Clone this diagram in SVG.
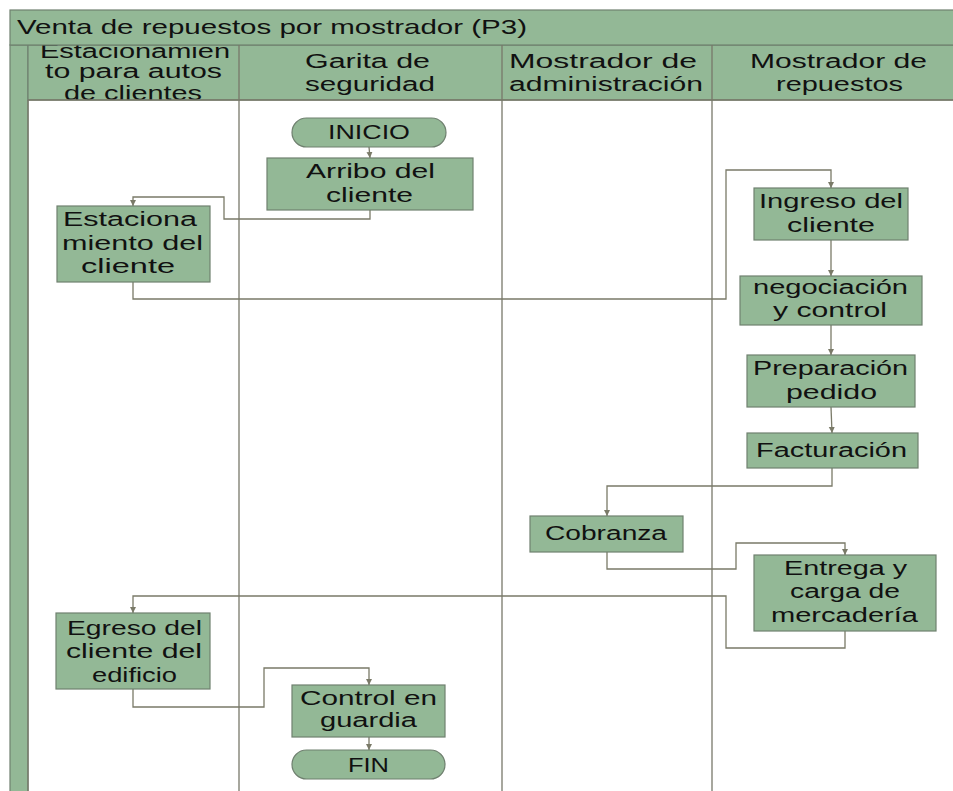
<svg xmlns="http://www.w3.org/2000/svg" width="953" height="791" viewBox="0 0 953 791">
<defs>
<marker id="ah" markerUnits="userSpaceOnUse" markerWidth="8" markerHeight="8" refX="6" refY="3" orient="auto">
<path d="M0,0 L6,3 L0,6 Z" fill="#7a7a68"/>
</marker>
<style>
.g{fill:#93b896;stroke:#6f806f;stroke-width:1.2}
.lane{stroke:#78786a;stroke-width:1.3;fill:none}
.c{fill:none;stroke:#7a7a68;stroke-width:1.3;marker-end:url(#ah)}
text{font-family:"Liberation Sans","Open Sans",sans-serif;fill:#111;font-size:20px}
.t{font-size:21px}
</style>
</defs>
<rect width="953" height="791" fill="#fff"/>
<g id="pool">
<rect x="10" y="45" width="18" height="760" class="g"/>
<rect x="28" y="45" width="930" height="55" class="g"/>
<g id="headers">
<text x="40" y="58" textLength="190" lengthAdjust="spacingAndGlyphs">Estacionamien</text>
<text x="45" y="78" textLength="177" lengthAdjust="spacingAndGlyphs">to para autos</text>
<text x="64" y="100" textLength="138" lengthAdjust="spacingAndGlyphs">de clientes</text>
<text x="305" y="68" textLength="125" lengthAdjust="spacingAndGlyphs">Garita de</text>
<text x="305" y="91" textLength="130" lengthAdjust="spacingAndGlyphs">seguridad</text>
<text x="509" y="68" textLength="188" lengthAdjust="spacingAndGlyphs">Mostrador de</text>
<text x="509" y="91" textLength="194" lengthAdjust="spacingAndGlyphs">administración</text>
<text x="750" y="68" textLength="177" lengthAdjust="spacingAndGlyphs">Mostrador de</text>
<text x="776" y="91" textLength="127" lengthAdjust="spacingAndGlyphs">repuestos</text>
</g>
<rect x="10" y="10" width="950" height="35" class="g"/>
<text class="t" x="17" y="34" textLength="510" lengthAdjust="spacingAndGlyphs">Venta de repuestos por mostrador (P3)</text>
<line x1="28" y1="100" x2="28" y2="791" class="lane"/>
<line x1="28" y1="100" x2="953" y2="100" class="lane"/>
<line x1="239" y1="45" x2="239" y2="791" class="lane"/>
<line x1="502" y1="45" x2="502" y2="791" class="lane"/>
<line x1="712" y1="45" x2="712" y2="791" class="lane"/>
</g>
<g id="connectors">
<path class="c" d="M369,147 L370,158"/>
<path class="c" d="M370,210 V219 H224 V197 H133 V206"/>
<path class="c" d="M133,282 V299 H726 V170 H831 V188"/>
<path class="c" d="M831,240 V276"/>
<path class="c" d="M831,325 V355"/>
<path class="c" d="M831,407 L832,433"/>
<path class="c" d="M832,468 V486 H607 V516"/>
<path class="c" d="M607,552 V569 H736 V543 H845 V555"/>
<path class="c" d="M845,631 V648 H726 V596 H133 V613"/>
<path class="c" d="M133,689 V707 H264 V668 H369 V685"/>
<path class="c" d="M369,737 V750"/>
</g>
<g id="inicio">
<rect x="292" y="118" width="154" height="29" rx="14.5" class="g"/>
<text x="328" y="139" textLength="82" lengthAdjust="spacingAndGlyphs">INICIO</text>
</g>
<g id="arribo">
<rect x="267" y="158" width="206" height="52" class="g"/>
<text x="306" y="178" textLength="129" lengthAdjust="spacingAndGlyphs">Arribo del</text>
<text x="326" y="202" textLength="87" lengthAdjust="spacingAndGlyphs">cliente</text>
</g>
<g id="estacionamiento">
<rect x="57" y="206" width="153" height="76" class="g"/>
<text x="63" y="226" textLength="134" lengthAdjust="spacingAndGlyphs">Estaciona</text>
<text x="62" y="250" textLength="141" lengthAdjust="spacingAndGlyphs">miento del</text>
<text x="81" y="273" textLength="94" lengthAdjust="spacingAndGlyphs">cliente</text>
</g>
<g id="ingreso">
<rect x="754" y="188" width="154" height="52" class="g"/>
<text x="759" y="208" textLength="144" lengthAdjust="spacingAndGlyphs">Ingreso del</text>
<text x="787" y="232" textLength="88" lengthAdjust="spacingAndGlyphs">cliente</text>
</g>
<g id="negociacion">
<rect x="740" y="276" width="182" height="49" class="g"/>
<text x="753" y="294" textLength="155" lengthAdjust="spacingAndGlyphs">negociación</text>
<text x="773" y="317" textLength="114" lengthAdjust="spacingAndGlyphs">y control</text>
</g>
<g id="preparacion">
<rect x="747" y="355" width="168" height="52" class="g"/>
<text x="753" y="375" textLength="155" lengthAdjust="spacingAndGlyphs">Preparación</text>
<text x="786" y="399" textLength="91" lengthAdjust="spacingAndGlyphs">pedido</text>
</g>
<g id="facturacion">
<rect x="747" y="433" width="171" height="35" class="g"/>
<text x="756" y="457" textLength="151" lengthAdjust="spacingAndGlyphs">Facturación</text>
</g>
<g id="cobranza">
<rect x="530" y="516" width="153" height="36" class="g"/>
<text x="545" y="540" textLength="122" lengthAdjust="spacingAndGlyphs">Cobranza</text>
</g>
<g id="entrega">
<rect x="754" y="555" width="182" height="76" class="g"/>
<text x="784" y="575" textLength="123" lengthAdjust="spacingAndGlyphs">Entrega y</text>
<text x="790" y="598" textLength="110" lengthAdjust="spacingAndGlyphs">carga de</text>
<text x="771" y="622" textLength="147" lengthAdjust="spacingAndGlyphs">mercadería</text>
</g>
<g id="egreso">
<rect x="56" y="613" width="154" height="76" class="g"/>
<text x="67" y="635" textLength="135" lengthAdjust="spacingAndGlyphs">Egreso del</text>
<text x="66" y="658" textLength="136" lengthAdjust="spacingAndGlyphs">cliente del</text>
<text x="92" y="682" textLength="85" lengthAdjust="spacingAndGlyphs">edificio</text>
</g>
<g id="control">
<rect x="292" y="685" width="153" height="52" class="g"/>
<text x="300" y="705" textLength="137" lengthAdjust="spacingAndGlyphs">Control en</text>
<text x="320" y="727" textLength="97" lengthAdjust="spacingAndGlyphs">guardia</text>
</g>
<g id="fin">
<rect x="292" y="750" width="153" height="29" rx="14.5" class="g"/>
<text x="348" y="772" textLength="41" lengthAdjust="spacingAndGlyphs">FIN</text>
</g>
</svg>
